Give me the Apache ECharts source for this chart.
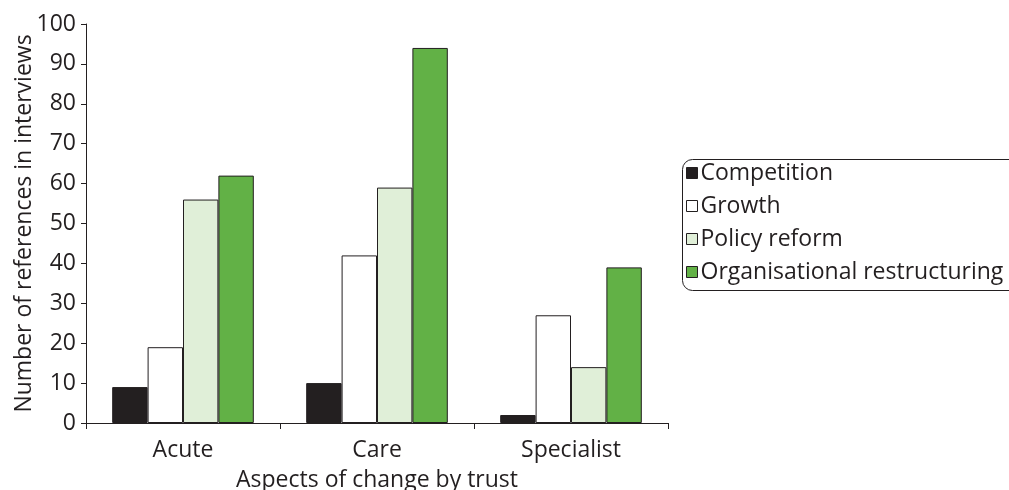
<!DOCTYPE html>
<html><head><meta charset="utf-8">
<script src="https://cdn.jsdelivr.net/npm/echarts@6/dist/echarts.min.js"></script>
<style>html,body{margin:0;padding:0;background:#fff}#c{width:1009px;height:490px}</style>
</head><body><div id="c"></div>
<script>
const categories = ['Acute', 'Care', 'Specialist'];
const seriesNames = ['Competition', 'Growth', 'Policy reform', 'Organisational restructuring'];
const competition = [9, 10, 2];
const growth = [19, 42, 27];
const policyReform = [56, 59, 14];
const orgRestructuring = [62, 94, 39];
const yTicks = [0, 10, 20, 30, 40, 50, 60, 70, 80, 90, 100];

const colors = ['#231f20', '#ffffff', '#e0efd8', '#62b146'];
const dataSets = [competition, growth, policyReform, orgRestructuring];
const FONT = 'Open Sans';
const FS = 23;
const ink = '#231f20';

const chart = echarts.init(document.getElementById('c'));
chart.setOption({
  animation: false,
  textStyle: { fontFamily: FONT, color: ink },
  grid: { left: 86, right: 341, top: 24, bottom: 67, outerBoundsMode: 'none', containLabel: false },
  graphic: [{
    type: 'rect', left: 680, top: 157, z: 0, silent: true,
    shape: { width: 420, height: 131, r: 10 },
    style: { fill: 'none', stroke: ink, lineWidth: 1 }
  }],
  legend: {
    orient: 'vertical', left: 681, top: 157,
    padding: [3, 5, 4, 5],
    itemWidth: 11, itemHeight: 11, itemGap: 7,
    icon: 'rect',
    textStyle: { fontFamily: FONT, fontSize: FS, color: ink, lineHeight: 26, padding: [0, 0, 0, -2] },
    itemStyle: { borderColor: ink, borderWidth: 1 },
    data: seriesNames
  },
  xAxis: {
    type: 'category', data: categories,
    name: 'Aspects of change by trust', nameLocation: 'middle', nameGap: 46, nameMoveOverlap: false,
    nameTextStyle: { fontSize: FS, color: ink, fontFamily: FONT },
    axisLine: { lineStyle: { color: ink, width: 1 } },
    axisTick: { show: true, length: 6, lineStyle: { color: ink } },
    axisLabel: { fontSize: FS, color: ink, margin: 16 }
  },
  yAxis: {
    type: 'value', min: 0, max: 100, interval: 10,
    name: 'Number of references in interviews', nameLocation: 'middle', nameGap: 50, nameRotate: 90, nameMoveOverlap: false,
    nameTextStyle: { fontSize: FS, color: ink, fontFamily: FONT },
    axisLine: { show: true, lineStyle: { color: ink, width: 1 } },
    axisTick: { show: true, length: 5, lineStyle: { color: ink } },
    axisLabel: { fontSize: FS, color: ink, margin: 10,
      formatter: v => yTicks.includes(v) ? String(v) : '' },
    splitLine: { show: false }
  },
  series: seriesNames.map((n, i) => ({
    name: n, type: 'bar', data: dataSets[i],
    barGap: '0%', barCategoryGap: '27%',
    itemStyle: { color: colors[i], borderColor: ink, borderWidth: 1 }
  }))
});
</script></body></html>
